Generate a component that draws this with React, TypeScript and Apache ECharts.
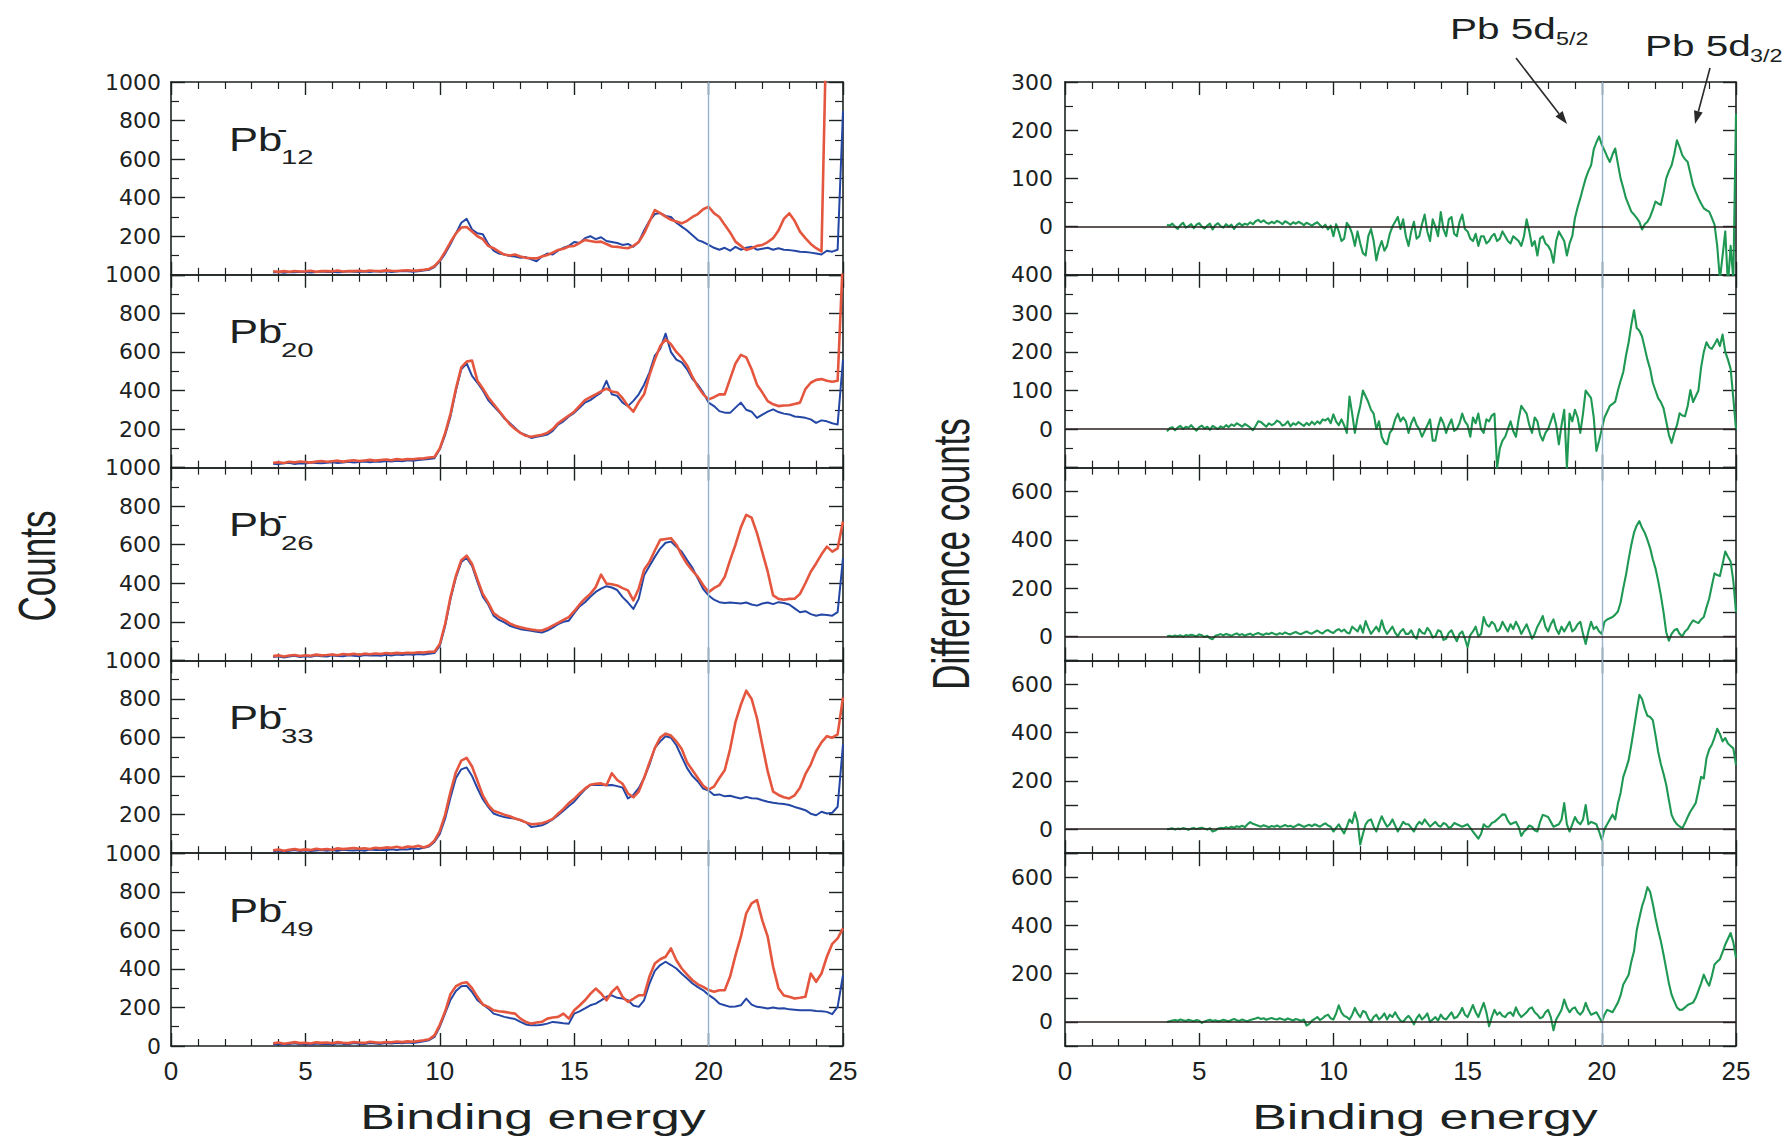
import React, { useEffect, useRef } from "react";
import * as echarts from "echarts";

const FONT = "'Liberation Sans', Arial, Helvetica, sans-serif";
const TICK_FONT = "'DejaVu Sans', 'Liberation Sans', sans-serif";
const INK = "#1c2222";
const BLUE = "#2447a6";
const RED = "#e5563f";
const GREEN = "#1e9852";
const MARK_BLUE = "#94b4cb";

// Binding-energy grids (eV)
const SPECTRUM_START = 3.8;
const SPECTRUM_STEP = 0.2;
const DIFF_START = 3.8;
const DIFF_STEP = 0.1;

const clusterSizes = ["12", "20", "26", "33", "49"];

// Photoelectron spectra, counts (left column), blue and red traces per cluster size
const pb12Blue = [
  12, 14, 11, 15, 13, 16, 14, 12, 15, 17,
  14, 16, 13, 15, 18, 16, 14, 17, 15, 19,
  16, 18, 15, 17, 20, 18, 16, 19, 22, 26,
  40, 70, 110, 160, 215, 270, 290, 235, 215, 210,
  160, 125, 110, 105, 98, 95, 88, 92, 80, 70,
  95, 110, 105, 125, 140, 150, 170, 165, 190, 200,
  185, 195, 175, 170, 165, 155, 160, 145, 170, 230,
  280, 315, 320, 305, 300, 270, 250, 230, 205, 180,
  170, 155, 140, 130, 140, 125, 145, 130, 140, 145,
  130, 135, 140, 130, 138, 130, 128, 125, 120, 118,
  115, 110, 105, 125, 120, 130, 850,
];
const pb12Red = [
  18, 15, 19, 16, 20, 17, 18, 21, 16, 19,
  20, 18, 22, 17, 20, 19, 21, 18, 22, 20,
  19, 23, 21, 20, 22, 24, 21, 23, 26, 30,
  45, 75, 120, 170, 215, 245, 248, 225, 200, 185,
  150, 138, 120, 105, 100, 105, 95, 88, 86, 85,
  95, 103, 115, 129, 135, 147, 150, 165, 181, 175,
  170, 172, 160, 147, 145, 140, 138, 150, 170, 215,
  276, 336, 320, 302, 285, 276, 267, 280, 300, 315,
  340, 353, 320, 300, 259, 220, 172, 150, 129, 138,
  150, 155, 170, 190, 230, 290, 319, 280, 224, 190,
  160, 138, 121, 1400, 1400, 1400, 1400,
];
const pb20Blue = [
  20, 18, 22, 25, 19, 23, 21, 26, 24, 22,
  25, 28, 24, 27, 30, 26, 29, 32, 28, 31,
  30, 34, 31, 35, 33, 38, 36, 40, 42, 45,
  49, 95, 170, 267, 400, 510, 540, 476, 440, 400,
  350, 319, 290, 255, 232, 205, 180, 170, 154, 160,
  165, 171, 190, 223, 240, 265, 284, 310, 337, 350,
  370, 389, 450, 380, 372, 337, 319, 346, 380, 430,
  494, 581, 616, 695, 599, 560, 546, 510, 459, 430,
  389, 337, 319, 293, 285, 284, 311, 337, 300, 290,
  258, 275, 290, 302, 288, 280, 276, 265, 262, 258,
  250, 232, 245, 240, 230, 223, 560,
];
const pb20Red = [
  25, 28, 24, 30, 27, 32, 29, 26, 31, 34,
  30, 33, 36, 31, 35, 38, 34, 37, 40, 36,
  39, 42, 38, 44, 41, 45, 43, 47, 48, 52,
  55, 100, 180, 280, 410, 520, 550, 555, 450, 410,
  365, 330, 295, 260, 225, 200, 180, 165, 160, 165,
  170, 180, 200, 230, 250, 270, 290, 320, 350, 365,
  380, 395, 410, 395, 390, 360, 320, 290, 340, 380,
  480, 560, 630, 665, 640, 600, 570, 530, 470, 420,
  380, 354, 365, 380, 380, 460, 540, 585, 572, 510,
  430, 389, 345, 328, 319, 322, 323, 330, 337, 407,
  440, 455, 459, 450, 445, 450, 1100,
];
const pb26Blue = [
  18, 22, 15, 20, 24, 17, 21, 19, 25, 22,
  20, 26, 23, 21, 27, 24, 22, 28, 25, 27,
  24, 29, 26, 30, 28, 32, 29, 33, 31, 34,
  38, 75, 180, 320, 430, 510, 532, 490, 407, 330,
  290, 232, 210, 197, 180, 171, 162, 158, 154, 148,
  145, 155, 170, 188, 200, 206, 245, 280, 302, 330,
  355, 372, 385, 378, 365, 328, 300, 267, 319, 441,
  490, 537, 580, 610, 616, 590, 564, 520, 480, 424,
  370, 337, 315, 302, 298, 300, 298, 295, 300, 290,
  284, 295, 300, 292, 302, 298, 290, 270, 250, 255,
  240, 232, 238, 235, 232, 250, 530,
];
const pb26Red = [
  22, 26, 20, 25, 28, 23, 27, 24, 30, 26,
  28, 31, 27, 33, 30, 34, 29, 35, 32, 36,
  33, 38, 35, 39, 37, 40, 38, 42, 41, 44,
  45, 85, 190, 330, 440, 520, 543, 500, 420, 345,
  300, 245, 225, 210, 192, 180, 172, 165, 160, 156,
  155, 165, 180, 195, 210, 225, 255, 290, 320, 345,
  380, 445, 398, 395, 389, 375, 363, 311, 372, 470,
  511, 570, 625, 630, 634, 600, 546, 500, 465, 433,
  390, 354, 375, 390, 433, 520, 600, 690, 755, 740,
  660, 560, 460, 337, 319, 315, 319, 320, 345, 400,
  460, 503, 550, 590, 564, 581, 720,
];
const pb33Blue = [
  10, 14, 9, 13, 16, 12, 15, 11, 14, 17,
  13, 16, 12, 18, 15, 14, 17, 13, 19, 16,
  18, 15, 20, 17, 21, 19, 24, 22, 28, 35,
  58, 100, 180, 290, 390, 435, 445, 400, 337, 280,
  240, 206, 195, 188, 182, 180, 171, 160, 136, 140,
  145, 158, 175, 197, 220, 245, 267, 300, 330, 354,
  354, 354, 352, 354, 348, 340, 284, 302, 337, 390,
  459, 546, 580, 607, 599, 560, 500, 441, 400, 372,
  335, 325, 302, 305, 295, 298, 290, 284, 292, 285,
  284, 275, 267, 262, 258, 255, 250, 240, 232, 223,
  205, 197, 215, 206, 210, 241, 564,
];
const pb33Red = [
  15, 19, 13, 18, 22, 16, 20, 17, 23, 19,
  22, 18, 25, 21, 24, 27, 23, 26, 22, 28,
  25, 30, 28, 33, 27, 35, 32, 38, 30, 40,
  65, 115, 200, 320, 420, 480, 494, 450, 375, 300,
  250, 220, 210, 200, 192, 180, 172, 160, 150, 152,
  155, 165, 178, 205, 230, 260, 282, 310, 335, 355,
  360, 362, 352, 415, 380, 360, 310, 290, 320, 390,
  470, 545, 600, 620, 610, 580, 540, 470, 430, 390,
  350, 330, 345, 390, 430, 540, 680, 770, 843, 800,
  700, 560, 424, 319, 302, 290, 284, 300, 340, 410,
  460, 529, 575, 607, 599, 616, 808,
];
const pb49Blue = [
  8, 12, 6, 10, 14, 9, 11, 7, 13, 10,
  12, 8, 14, 11, 9, 15, 12, 10, 16, 13,
  11, 15, 13, 17, 14, 18, 16, 20, 24, 30,
  47, 100, 170, 240, 285, 310, 312, 280, 237, 215,
  195, 168, 160, 151, 145, 140, 125, 112, 107, 107,
  110, 116, 125, 122, 118, 116, 168, 180, 195, 211,
  220, 237, 255, 263, 250, 246, 237, 210, 203, 237,
  324, 390, 420, 437, 420, 402, 375, 350, 324, 305,
  289, 265, 246, 220, 211, 203, 205, 211, 246, 215,
  203, 200, 195, 200, 194, 196, 190, 188, 185, 185,
  186, 182, 180, 177, 165, 203, 367,
];
const pb49Red = [
  14, 18, 12, 16, 20, 15, 17, 13, 19, 16,
  18, 14, 20, 17, 15, 21, 18, 16, 22, 19,
  17, 21, 19, 23, 20, 24, 22, 26, 30, 35,
  55, 110, 180, 270, 310, 325, 331, 300, 255, 215,
  203, 185, 180, 177, 172, 168, 142, 125, 116, 122,
  125, 142, 148, 151, 168, 142, 185, 210, 237, 270,
  298, 272, 237, 280, 307, 255, 229, 245, 263, 263,
  360, 428, 450, 463, 506, 445, 402, 370, 341, 320,
  307, 290, 281, 289, 289, 360, 470, 567, 688, 740,
  757, 650, 567, 411, 300, 262, 255, 246, 250, 255,
  376, 333, 376, 463, 530, 558, 610,
];

// Difference spectra (right column)
const pb12Diff = [
  4, 2, 6, 0, -5, 3, 8, -2, 1, 5,
  -3, 4, 7, 0, -4, 2, 6, -6, 3, 7,
  1, -2, 5, 0, 4, -5, 3, 7, 2, 6,
  4, 9, 5, 11, 14, 9, 13, 8, 6, 10,
  7, 12, 9, 5, 11, 8, 4, 9, 6, 10,
  7, 3, 8, 5, 2, 6, 9, 3, -2, 4,
  -6, 2, -20, 5, -10, -30, -25, 8, 0, -15,
  -40, -10, -35, -55, -60, -20, -5, -30, -70, -45,
  -30, -50, -40, -15, 0, 10, 20, -5, 15, -20,
  -40, -10, 10, -25, -20, 5, 25, -10, -30, 15,
  0, -20, 30, -5, -20, 15, 20, -15, -20, 10,
  25, -5, -10, -25, -30, -15, -40, -20, -20, -35,
  -30, -20, -15, -30, -25, -10, -20, -30, -35, -20,
  -25, -30, -40, -20, 15, -10, -40, -30, -60, -25,
  -20, -35, -40, -50, -75, -30, -10, -20, -30, -60,
  -35, -20, 18, 40, 59, 80, 100, 115, 127, 160,
  175, 187, 170, 158, 145, 134, 150, 162, 130, 100,
  80, 59, 45, 31, 25, 18, 10, -6, 5, 10,
  20, 35, 52, 48, 45, 70, 100, 115, 127, 150,
  179, 165, 148, 140, 134, 110, 86, 72, 59, 48,
  38, 34, 31, 18, 4, -40, -110, -60, -10, -120,
  -40, -110, 234,
];
const pb20Diff = [
  -6, 2, 5, -3, 4, 8, 0, 6, 3, 10,
  2, -4, 5, 9, 1, 6, -2, 8, 4, 0,
  7, 3, 10, 5, 12, 8, 15, 11, 6, 13,
  9, 4, -3, 8, 20, 18, 12, 6, 15, 10,
  14, 22, 18, 9, 12, 20, 7, 15, 11, 18,
  13, 8, 16, 10, 19, 12, 20, 14, 25, 22,
  28, 15, 38, 20, 10, 25, 10, -10, 84, 40,
  -10, 30, 60, 100, 85, 70, 50, 40, 0, 20,
  -20, -35, -40, -10, 0, 25, 40, 20, 30, 20,
  -10, 15, 30, 10, 0, -20, -5, 10, 25, -30,
  -30, 5, 30, 15, -10, 10, 25, -5, 0, 15,
  40, 20, 10, -20, 30, 15, 40, 0, -10, 25,
  20, 35, 40, -100, -50, -30, -20, 0, 20, -5,
  -20, 25, 60, 50, 40, 10, -10, 30, 20, -15,
  -30, -10, 0, 20, 40, 10, -40, 10, 50, -100,
  40, 20, 50, 30, -10, 40, 100, 90, 80, 30,
  -57, -30, 0, 30, 45, 60, 65, 71, 100, 125,
  148, 190, 225, 270, 308, 262, 255, 240, 210, 180,
  156, 120, 100, 80, 70, 54, 20, -15, -36, -10,
  10, 41, 35, 33, 60, 101, 70, 85, 100, 160,
  200, 225, 212, 208, 220, 233, 215, 245, 200, 180,
  156, 80, 0,
];
const pb26Diff = [
  0, 2, -1, 3, 0, 4, -2, 5, 2, 6,
  3, 0, 8, 4, -3, 2, -8, -12, 2, 5,
  9, 4, 10, 6, 2, 8, 12, 5, 9, 3,
  7, 11, 4, 10, 14, 8, 6, 12, 9, 15,
  10, 7, 13, 9, 16, 11, 8, 14, 18, 12,
  9, 15, 20, 14, 11, 18, 24, 16, 12, 22,
  26, 18, 14, 24, 30, 20, 28, 16, 12, 40,
  30, 20, 45, 15, 63, 35, 10, 25, 40, 20,
  66, 30, 10, 25, 40, 15, 0, 20, 30, 10,
  10, 25, 0, -10, 30, 15, 10, 35, 20, -5,
  0, 25, 20, -15, -10, 15, 25, 0, -20, 10,
  20, -10, -45, 5, 20, 40, 0, 10, 80, 50,
  40, 60, 50, 20, 30, 60, 40, 20, 50, 30,
  60, 40, 10, 30, 50, 20, -10, 10, 40, 60,
  84, 40, 20, 50, 70, 30, 10, 40, 20, 40,
  60, 20, 30, 50, 60, 10, -32, 20, 60, 30,
  40, 20, 10, 60, 70, 75, 80, 90, 103, 140,
  200, 254, 320, 380, 430, 460, 478, 450, 430, 400,
  366, 320, 282, 230, 170, 100, 17, -18, 10, 25,
  31, 10, 0, 20, 30, 50, 66, 60, 55, 70,
  80, 120, 156, 210, 261, 254, 250, 300, 352, 330,
  310, 230, 100,
];
const pb33Diff = [
  0, 1, 3, -2, 2, 0, 4, 1, -3, 2,
  5, 0, 3, 6, 2, -2, 4, -10, -6, 2,
  5, 3, 8, 4, 10, 6, 12, 9, 14, 8,
  20, 29, 22, 18, 14, 10, 16, 12, 8, 13,
  10, 15, 9, 12, 17, 11, 14, 8, 13, 20,
  15, 9, 14, 18, 12, 20, 15, 10, 18, 24,
  15, 10, -10, 5, 20, 0, -18, 10, 40, 25,
  70, 30, -64, -20, 20, 35, 40, 10, -10, 25,
  53, 30, 10, 20, 40, 15, -10, 10, 30, 20,
  20, 5, -10, 15, 30, 20, 40, 25, 10, 20,
  30, 15, 10, 25, 20, 5, 10, 25, 20, 15,
  10, 15, 20, 5, -10, -25, -40, -20, 20, 10,
  10, 25, 30, 40, 50, 61, 60, 35, 20, 25,
  30, 10, -28, -10, 0, 15, 10, -5, -10, 30,
  59, 55, 50, 30, 10, 15, 20, 40, 108, 20,
  -10, 20, 50, 30, 20, 40, 100, 20, 30, 25,
  20, -10, -44, 0, 20, 40, 60, 40, 106, 150,
  217, 250, 286, 350, 419, 490, 557, 540, 500, 470,
  465, 452, 390, 321, 270, 230, 184, 120, 59, 35,
  20, 11, 4, 25, 50, 73, 90, 108, 160, 217,
  210, 294, 330, 350, 380, 416, 395, 364, 378, 355,
  345, 335, 267,
];
const pb49Diff = [
  0, 3, 6, 8, 5, 10, 7, 4, 9, 6,
  3, 8, 5, -4, 2, 6, 9, 4, 7, 3,
  5, 9, 6, 2, 8, 12, 7, 4, 10, 6,
  3, 8, 11, 14, 18, 12, 15, 9, 13, 16,
  12, 10, 15, 11, 8, 14, 10, 6, 12, 9,
  4, 10, -15, -8, 5, 12, 20, 8, 15, 25,
  30, 15, 10, 35, 69, 40, 25, 20, 10, 30,
  58, 35, 20, 45, 40, 15, 0, 20, 30, 10,
  20, 35, 10, 30, 20, 40, 20, 5, 0, 15,
  25, 10, -10, 15, 30, 10, 20, 35, 0, 10,
  20, 5, 30, 15, 10, 25, 40, 15, 20, 35,
  58, 30, 20, 45, 70, 40, 20, 50, 79, 40,
  -18, 20, 50, 30, 40, 25, 20, 35, 40, 25,
  60, 35, 20, 30, 40, 55, 60, 40, 30, 15,
  20, 40, 50, 20, -35, 10, 30, 50, 93, 60,
  40, 55, 60, 40, 30, 45, 79, 50, 30, 35,
  40, 20, 0, 30, 50, 45, 40, 60, 80, 110,
  155, 175, 196, 250, 293, 380, 431, 480, 514, 559,
  540, 490, 431, 380, 335, 280, 220, 160, 113, 85,
  60, 50, 51, 60, 70, 75, 80, 100, 130, 160,
  196, 170, 150, 190, 238, 250, 260, 290, 321, 345,
  369, 330, 266,
];

const blueSpectra = [pb12Blue, pb20Blue, pb26Blue, pb33Blue, pb49Blue];
const redSpectra = [pb12Red, pb20Red, pb26Red, pb33Red, pb49Red];
const diffSpectra = [pb12Diff, pb20Diff, pb26Diff, pb33Diff, pb49Diff];

// y ranges of the difference panels
const diffMin = [-100, -100, -100, -100, -100];
const diffMax = [300, 400, 700, 700, 700];

// Panel geometry
const PANEL_TOP = 82;
const PANEL_H = 192.8;
const COL_LEFT = [171, 1065];
const COL_W = [672, 671];

const toPairs = (start: number, step: number, vals: number[]) =>
  vals.map((v, i) => [+(start + i * step).toFixed(2), v]);

const axisLine = { show: true, onZero: false, lineStyle: { color: INK, width: 1.6 } };

function xAxisFor(gridIndex: number, position: string, showLabels: boolean) {
  return {
    type: "value",
    gridIndex,
    position,
    min: 0,
    max: 25,
    interval: 5,
    axisLine,
    axisTick: { show: true, inside: true, length: 13, lineStyle: { color: INK, width: 1.4 } },
    minorTick: { show: true, splitNumber: 5, length: 7, lineStyle: { color: INK, width: 1.2 } },
    splitLine: { show: false },
    minorSplitLine: { show: false },
    axisLabel: {
      show: showLabels,
      margin: 12,
      fontFamily: FONT,
      fontSize: 26,
      color: INK,
    },
  };
}

function yAxisFor(
  gridIndex: number,
  position: string,
  min: number,
  max: number,
  interval: number,
  minor: boolean,
  tickLen: number,
  showLabels: boolean,
  formatter: (v: number) => string,
  margin: number
) {
  return {
    type: "value",
    gridIndex,
    position,
    min,
    max,
    interval,
    axisLine,
    axisTick: { show: true, inside: true, length: tickLen, lineStyle: { color: INK, width: 1.4 } },
    minorTick: { show: minor, splitNumber: 2, length: 8, lineStyle: { color: INK, width: 1.2 } },
    splitLine: { show: false },
    minorSplitLine: { show: false },
    axisLabel: {
      show: showLabels,
      formatter,
      margin,
      fontFamily: TICK_FONT,
      fontSize: 22,
      color: INK,
    },
  };
}

function text(
  str: string,
  x: number,
  y: number,
  fontSize: number,
  opts: { scaleX?: number; scaleY?: number; rotation?: number; align?: string } = {}
) {
  return {
    type: "text",
    x,
    y,
    scaleX: opts.scaleX ?? 1,
    scaleY: opts.scaleY ?? 1,
    rotation: opts.rotation ?? 0,
    silent: true,
    style: {
      text: str,
      fontSize,
      fontFamily: FONT,
      fill: INK,
      align: opts.align ?? "left",
      verticalAlign: "middle",
    },
  };
}

function arrow(x1: number, y1: number, x2: number, y2: number) {
  const a = Math.atan2(y2 - y1, x2 - x1);
  const len = 13;
  const half = 4.5;
  const bx = x2 - len * Math.cos(a);
  const by = y2 - len * Math.sin(a);
  const nx = -Math.sin(a) * half;
  const ny = Math.cos(a) * half;
  return [
    {
      type: "line",
      silent: true,
      shape: { x1, y1, x2: bx, y2: by },
      style: { stroke: "#2a2a2a", lineWidth: 1.6 },
    },
    {
      type: "polygon",
      silent: true,
      shape: { points: [[x2, y2], [bx + nx, by + ny], [bx - nx, by - ny]] },
      style: { fill: "#2a2a2a" },
    },
  ];
}

function buildOption() {
  const grid: any[] = [];
  const xAxis: any[] = [];
  const yAxis: any[] = [];
  const series: any[] = [];
  const graphic: any[] = [];

  for (let col = 0; col < 2; col++) {
    for (let row = 0; row < 5; row++) {
      const g = grid.length;
      const top = PANEL_TOP + row * PANEL_H;
      grid.push({ left: COL_LEFT[col], top, width: COL_W[col], height: PANEL_H });
      const isBottom = row === 4;
      xAxis.push(xAxisFor(g, "bottom", isBottom));
      xAxis.push(xAxisFor(g, "top", false));

      if (col === 0) {
        const fmt = (v: number) => (v === 0 && !isBottom ? "" : String(v));
        yAxis.push(yAxisFor(g, "left", 0, 1000, 200, true, 14, true, fmt, 10));
        yAxis.push(yAxisFor(g, "right", 0, 1000, 200, true, 14, false, fmt, 10));

        series.push({
          type: "line",
          xAxisIndex: 2 * g,
          yAxisIndex: 2 * g,
          data: toPairs(SPECTRUM_START, SPECTRUM_STEP, blueSpectra[row]),
          showSymbol: false,
          symbol: "none",
          clip: true,
          silent: true,
          lineStyle: { color: BLUE, width: 2, join: "round" },
          markLine: {
            silent: true,
            symbol: ["none", "none"],
            label: { show: false },
            lineStyle: { color: MARK_BLUE, width: 1.4, type: "solid" },
            data: [{ xAxis: 20 }],
          },
        });
        series.push({
          type: "line",
          xAxisIndex: 2 * g,
          yAxisIndex: 2 * g,
          data: toPairs(SPECTRUM_START, SPECTRUM_STEP, redSpectra[row]),
          showSymbol: false,
          symbol: "none",
          clip: true,
          silent: true,
          lineStyle: { color: RED, width: 2.6, join: "round" },
        });

        // cluster label: Pb with negative-charge sign and size subscript
        graphic.push(text("Pb", 229, top + 57, 33, { scaleX: 1.32 }));
        graphic.push(text("-", 277, top + 47, 26, { scaleX: 1.2 }));
        graphic.push(text(clusterSizes[row], 281, top + 75, 21, { scaleX: 1.4 }));
      } else {
        const wide = diffMax[row] <= 400;
        const fmt = wide
          ? (v: number) => (v < 0 ? "" : String(v))
          : (v: number) => (v >= 0 && v % 200 === 0 && v < 700 ? String(v) : "");
        yAxis.push(yAxisFor(g, "left", diffMin[row], diffMax[row], 100, wide, 13, true, fmt, 12));
        yAxis.push(yAxisFor(g, "right", diffMin[row], diffMax[row], 100, wide, 13, false, fmt, 12));

        series.push({
          type: "line",
          xAxisIndex: 2 * g,
          yAxisIndex: 2 * g,
          data: toPairs(DIFF_START, DIFF_STEP, diffSpectra[row]),
          showSymbol: false,
          symbol: "none",
          clip: true,
          silent: true,
          z: 3,
          lineStyle: { color: GREEN, width: 2.1, join: "round" },
          markLine: {
            silent: true,
            symbol: ["none", "none"],
            label: { show: false },
            data: [
              { xAxis: 20, lineStyle: { color: MARK_BLUE, width: 1.4, type: "solid" } },
              { yAxis: 0, lineStyle: { color: "#2b1f1f", width: 1.6, type: "solid" } },
            ],
          },
        });
      }
    }
  }

  // axis titles
  graphic.push(text("Counts", 36.5, 566, 35, { rotation: Math.PI / 2, scaleY: 1.48, align: "center" }));
  graphic.push(
    text("Difference counts", 951, 554, 35, { rotation: Math.PI / 2, scaleY: 1.48, align: "center" })
  );
  graphic.push(text("Binding energy", 533, 1117, 35, { scaleX: 1.48, align: "center" }));
  graphic.push(text("Binding energy", 1425, 1117, 35, { scaleX: 1.48, align: "center" }));

  // peak annotations
  graphic.push(text("Pb 5d", 1450, 28.5, 30, { scaleX: 1.35 }));
  graphic.push(text("5/2", 1556, 39, 18, { scaleX: 1.3 }));
  graphic.push(text("Pb 5d", 1645, 45.5, 30, { scaleX: 1.35 }));
  graphic.push(text("3/2", 1750, 56, 18, { scaleX: 1.3 }));
  graphic.push(...arrow(1516, 58, 1567, 124));
  graphic.push(...arrow(1710, 68, 1695, 124));

  return {
    animation: false,
    backgroundColor: "#ffffff",
    grid,
    xAxis,
    yAxis,
    series,
    graphic,
  };
}

export default function App() {
  const ref = useRef<HTMLDivElement>(null);
  useEffect(() => {
    if (!ref.current) return;
    const chart = echarts.init(ref.current, null, { renderer: "svg" });
    chart.setOption(buildOption() as any);
    return () => chart.dispose();
  }, []);
  return (
    <div
      ref={ref}
      style={{ position: "fixed", left: 0, top: 0, width: 1791, height: 1138, background: "#fff" }}
    />
  );
}
